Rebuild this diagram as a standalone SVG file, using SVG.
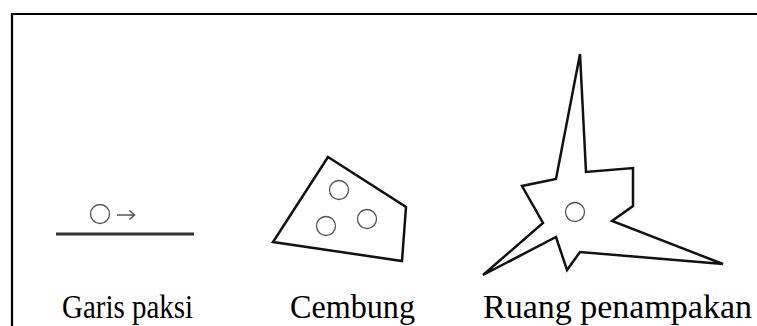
<svg xmlns="http://www.w3.org/2000/svg" width="757" height="326" viewBox="0 0 757 326">
<style>
.shape{fill:none;stroke:#111;stroke-width:2.5;stroke-linejoin:miter}
.dot{fill:none;stroke:#555;stroke-width:1.3}
.lbl{font-family:"Liberation Serif","Times New Roman",serif;font-size:33px;fill:#000}
</style>
<rect width="757" height="326" fill="#fff"/>
<path d="M12 326 V14 H757" fill="none" stroke="#000" stroke-width="2.2"/>
<g id="garis-paksi">
<line x1="56" y1="234" x2="194" y2="234" stroke="#333" stroke-width="2.8"/>
<circle class="dot" cx="100" cy="214" r="9.5"/>
<path d="M117 215 H134 M129.5 210.5 L134.5 215 L129.5 219.5" fill="none" stroke="#555" stroke-width="1.5"/>
<text class="lbl" x="62" y="318" textLength="131" lengthAdjust="spacingAndGlyphs">Garis paksi</text>
</g>
<g id="cembung">
<polygon class="shape" points="328,157 406,207 402,261 273,242"/>
<circle class="dot" cx="339" cy="190" r="9.5"/>
<circle class="dot" cx="326" cy="226" r="9.5"/>
<circle class="dot" cx="367" cy="219" r="9.5"/>
<text class="lbl" x="290" y="318" textLength="125" lengthAdjust="spacingAndGlyphs">Cembung</text>
</g>
<g id="ruang-penampakan">
<polygon class="shape" points="580,54 586,172 633,168 633,206 612,221 723,264 580,252 567,270 556,237 483,275 543,223 522,186 556,179"/>
<circle class="dot" cx="575" cy="212" r="9.5"/>
<text class="lbl" x="483" y="318" textLength="269" lengthAdjust="spacingAndGlyphs">Ruang penampakan</text>
</g>
</svg>
